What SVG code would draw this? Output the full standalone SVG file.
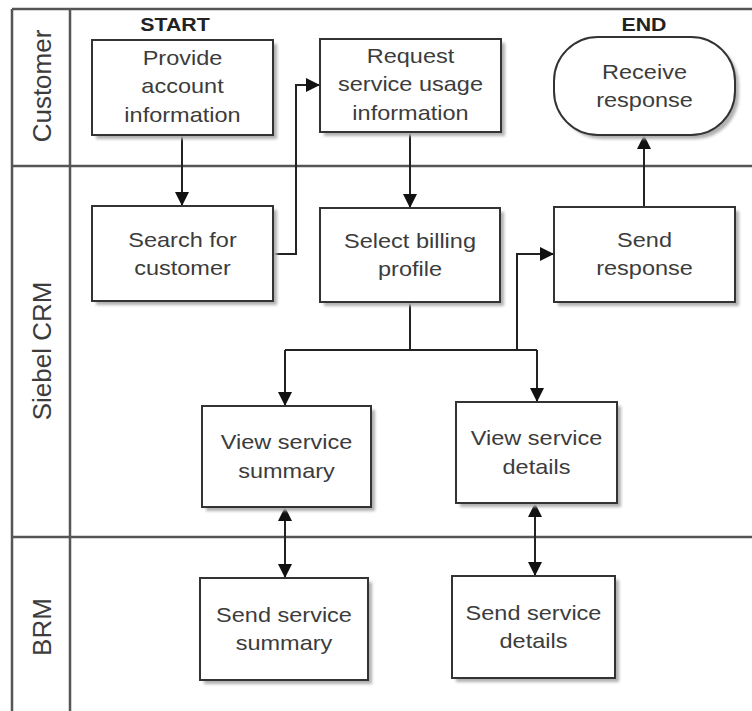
<svg xmlns="http://www.w3.org/2000/svg" width="752" height="711" viewBox="0 0 752 711">
<style>
.lane{stroke:#555;stroke-width:2.5;fill:none}
.box{fill:#fff;stroke:#333;stroke-width:2}
.shadow{fill:#b0b0b0;filter:url(#blur)}
.t{font-family:"Liberation Sans",Arial,sans-serif;font-size:21px;fill:#3c3c3c;text-anchor:middle}
.lbl{font-family:"Liberation Sans",Arial,sans-serif;font-size:26px;fill:#3c3c3c;text-anchor:middle}
.hd{font-family:"Liberation Sans",Arial,sans-serif;font-size:19px;font-weight:bold;fill:#222;text-anchor:middle}
.c{stroke:#222;stroke-width:2;fill:none}
</style>
<defs>
<filter id="blur" x="-10%" y="-10%" width="120%" height="120%"><feGaussianBlur stdDeviation="1.5"/></filter>
<marker id="ah" markerUnits="userSpaceOnUse" markerWidth="15" markerHeight="14" refX="14" refY="7" orient="auto-start-reverse" viewBox="0 0 15 14">
<path d="M0,0 L14,7 L0,14 z" fill="#111"/>
</marker>
</defs>
<rect width="752" height="711" fill="#fff"/>
<g id="lanes">
<path class="lane" d="M12,9 H752 M12,166 H752 M12,537 H752 M12,9 V711 M70,9 V711"/>
<text class="lbl" transform="translate(51,86) rotate(-90)">Customer</text>
<text class="lbl" transform="translate(51,351) rotate(-90)">Siebel CRM</text>
<text class="lbl" transform="translate(51,627) rotate(-90)">BRM</text>
<text class="hd" transform="translate(175,0) scale(1.12,1)" y="31">START</text>
<text class="hd" transform="translate(644,0) scale(1.12,1)" y="31">END</text>
</g>
<g id="connectors">
<path class="c" d="M182,135 V206" marker-end="url(#ah)"/>
<path class="c" d="M273,254 H296 V85 H320" marker-end="url(#ah)"/>
<path class="c" d="M410,132 V208" marker-end="url(#ah)"/>
<path class="c" d="M410,302 V350 M285,350 H537"/>
<path class="c" d="M285,350 V406" marker-end="url(#ah)"/>
<path class="c" d="M537,350 V402" marker-end="url(#ah)"/>
<path class="c" d="M517,350 V254 H554" marker-end="url(#ah)"/>
<path class="c" d="M644,207 V135" marker-end="url(#ah)"/>
<path class="c" d="M285,507 V578" marker-start="url(#ah)" marker-end="url(#ah)"/>
<path class="c" d="M535,503 V576" marker-start="url(#ah)" marker-end="url(#ah)"/>
</g>
<g id="provide">
<rect class="shadow" x="96" y="44" width="181" height="95"/>
<rect class="box" x="92" y="40" width="181" height="95"/>
<text class="t" transform="translate(182.5,0) scale(1.12,1)"><tspan x="0" y="65">Provide</tspan><tspan x="0" y="93.5">account</tspan><tspan x="0" y="122">information</tspan></text>
</g>
<g id="request">
<rect class="shadow" x="324" y="43" width="181" height="93"/>
<rect class="box" x="320" y="39" width="181" height="93"/>
<text class="t" transform="translate(410.5,0) scale(1.12,1)"><tspan x="0" y="63">Request</tspan><tspan x="0" y="91.5">service usage</tspan><tspan x="0" y="120">information</tspan></text>
</g>
<g id="receive">
<rect class="shadow" x="558" y="41" width="181" height="98" rx="44" ry="44"/>
<rect class="box" x="554" y="37" width="181" height="98" rx="44" ry="44"/>
<text class="t" transform="translate(644.5,0) scale(1.12,1)"><tspan x="0" y="79">Receive</tspan><tspan x="0" y="107">response</tspan></text>
</g>
<g id="search">
<rect class="shadow" x="96" y="210" width="181" height="95"/>
<rect class="box" x="92" y="206" width="181" height="95"/>
<text class="t" transform="translate(182.5,0) scale(1.12,1)"><tspan x="0" y="247">Search for</tspan><tspan x="0" y="275">customer</tspan></text>
</g>
<g id="select">
<rect class="shadow" x="324" y="212" width="180" height="94"/>
<rect class="box" x="320" y="208" width="180" height="94"/>
<text class="t" transform="translate(410,0) scale(1.12,1)"><tspan x="0" y="248">Select billing</tspan><tspan x="0" y="276">profile</tspan></text>
</g>
<g id="sendresponse">
<rect class="shadow" x="558" y="211" width="181" height="95"/>
<rect class="box" x="554" y="207" width="181" height="95"/>
<text class="t" transform="translate(644.5,0) scale(1.12,1)"><tspan x="0" y="247">Send</tspan><tspan x="0" y="275">response</tspan></text>
</g>
<g id="viewsummary">
<rect class="shadow" x="206" y="410" width="169" height="101"/>
<rect class="box" x="202" y="406" width="169" height="101"/>
<text class="t" transform="translate(286.5,0) scale(1.12,1)"><tspan x="0" y="449">View service</tspan><tspan x="0" y="478">summary</tspan></text>
</g>
<g id="viewdetails">
<rect class="shadow" x="460" y="406" width="161" height="101"/>
<rect class="box" x="456" y="402" width="161" height="101"/>
<text class="t" transform="translate(536.5,0) scale(1.12,1)"><tspan x="0" y="445">View service</tspan><tspan x="0" y="474">details</tspan></text>
</g>
<g id="sendsummary">
<rect class="shadow" x="204" y="582" width="168" height="102"/>
<rect class="box" x="200" y="578" width="168" height="102"/>
<text class="t" transform="translate(284,0) scale(1.12,1)"><tspan x="0" y="622">Send service</tspan><tspan x="0" y="650">summary</tspan></text>
</g>
<g id="senddetails">
<rect class="shadow" x="456" y="580" width="163" height="102"/>
<rect class="box" x="452" y="576" width="163" height="102"/>
<text class="t" transform="translate(533.5,0) scale(1.12,1)"><tspan x="0" y="620">Send service</tspan><tspan x="0" y="648">details</tspan></text>
</g>
</svg>
